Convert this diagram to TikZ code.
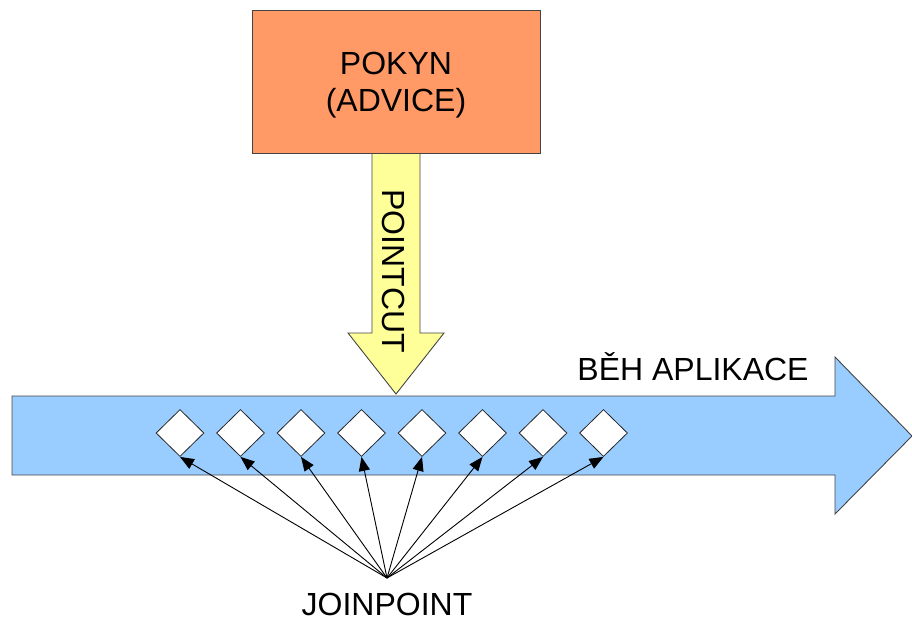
\documentclass[tikz,border=0pt]{standalone}
\usepackage{fontspec}
\setmainfont{Liberation Sans}
\usetikzlibrary{shapes.geometric,arrows.meta}
\definecolor{advorange}{HTML}{FF9966}
\definecolor{cutyellow}{HTML}{FFFF99}
\definecolor{runblue}{HTML}{99CCFF}
\definecolor{edgegray}{HTML}{444444}
\tikzset{
  lbl/.style={font=\fontsize{32}{37}\selectfont, text=black, inner sep=0pt, align=center},
  onelbl/.style={font=\fontsize{32}{37}\selectfont, text=black, inner sep=0pt},
  jpbox/.style={diamond, draw=black!85, fill=white, line width=0.8pt, inner sep=0pt, minimum width=48pt, minimum height=47pt},
  jparrow/.style={draw=black, line width=0.9pt, -{Triangle[length=14pt,width=11pt]}},
  shapeedge/.style={draw=edgegray, line width=0.9pt}
}
\begin{document}
\begin{tikzpicture}[x=1pt,y=-1pt]
\useasboundingbox (0,0) rectangle (912,619);
% application run arrow
\path[shapeedge, fill=runblue] (12,396) -- (835,396) -- (835,357) -- (912,436) -- (835,514) -- (835,475) -- (12,475) -- cycle;
% pointcut arrow
\path[shapeedge, fill=cutyellow] (372,153) -- (420,153) -- (420,333) -- (444,333) -- (396,394) -- (348,333) -- (372,333) -- cycle;
\node[onelbl, rotate=-90] (pc) at (394,271) {POINTCUT};
% advice box
\node[shapeedge, fill=advorange, minimum width=288pt, minimum height=143pt] (adv) at (396,82) {};
\node[lbl] (advtext) at (396,85.5) {POKYN\\(ADVICE)};
\node[onelbl] (run) at (693,367) {BĚH APLIKACE};
% joinpoints
\foreach \i/\x in {1/180,2/240.5,3/301,4/361.5,5/422,6/482.5,7/543,8/603.5}
  \node[jpbox] (d\i) at (\x,433) {};
\coordinate (jp) at (387,578);
\node[onelbl, anchor=base, text depth=0pt] (jpl) at (387,615) {JOINPOINT};
\foreach \i in {1,...,8}
  \draw[jparrow] (jp) -- (d\i.south);
\end{tikzpicture}
\end{document}
